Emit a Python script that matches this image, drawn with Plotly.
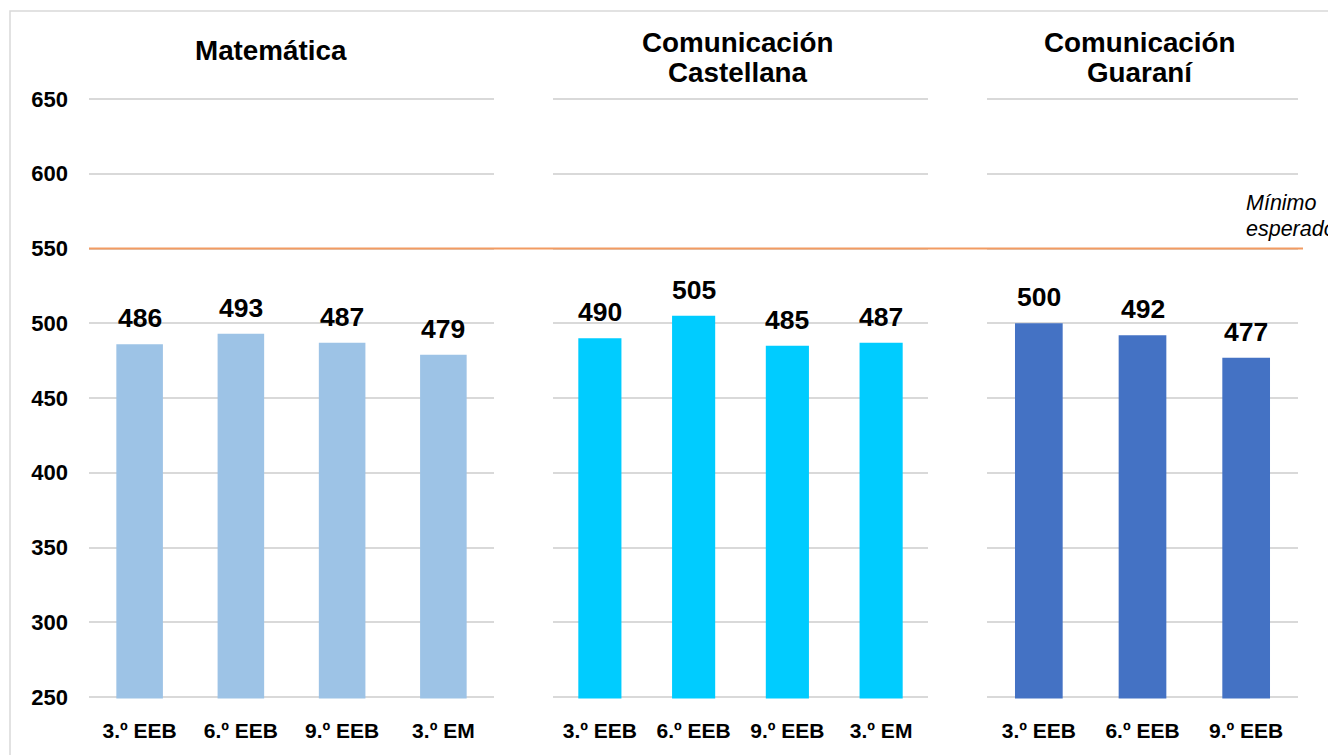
import plotly.graph_objects as go

# ---- data ----
cats_mat = ["3.º EEB", "6.º EEB", "9.º EEB", "3.º EM"]
vals_mat = [486, 493, 487, 479]
cats_cas = ["3.º EEB", "6.º EEB", "9.º EEB", "3.º EM"]
vals_cas = [490, 505, 485, 487]
cats_gua = ["3.º EEB", "6.º EEB", "9.º EEB"]
vals_gua = [500, 492, 477]
minimo = 550
y_ticks = [250, 300, 350, 400, 450, 500, 550, 600, 650]
min_label = ["Mínimo", "esperado"]

OFF = 8  # page body margin
W, H = 1336 - OFF, 755 - OFF
FONT = "Liberation Sans, Arial, sans-serif"
GRID = "#D9D9D9"

def px(x):
    return (x - OFF) / W

def py(y):
    return 1 - (y - OFF) / H

# y mapping: 250 -> 697px, 650 -> 99px
PPU = (697 - 99) / 400.0
Y0, Y1 = 249.0, 651.0
ydom = [py(697 + (250 - Y0) * PPU), py(99 - (Y1 - 650) * PPU)]

panels = [
    (cats_mat, vals_mat, "#9DC3E6", "x", (89, 494)),
    (cats_cas, vals_cas, "#00CCFF", "x2", (553, 928)),
    (cats_gua, vals_gua, "#4472C4", "x3", (987, 1298)),
]

fig = go.Figure()
annotations = []
for cats, vals, color, xa, dom in panels:
    fig.add_trace(go.Bar(x=cats, y=vals, marker=dict(color=color, line=dict(width=0)),
                         width=0.46, xaxis=xa, yaxis="y", showlegend=False,
                         hoverinfo="x+y"))
    for c, v in zip(cats, vals):
        annotations.append(dict(x=c, y=v, xref=xa, yref="y", text=f"<b>{v}</b>",
                                showarrow=False, yanchor="bottom", xanchor="center",
                                yshift=9, font=dict(family=FONT, size=26.5, color="black")))

# panel titles
title_pos = [
    [("Matemática", 271, 50)],
    [("Comunicación", 738, 42), ("Castellana", 738, 73)],
    [("Comunicación", 1140, 42), ("Guaraní", 1140, 73)],
]
for lines in title_pos:
    for t, x, y in lines:
        annotations.append(dict(x=px(x), y=py(y), xref="paper", yref="paper", text=f"<b>{t}</b>",
                                showarrow=False, xanchor="center", yanchor="middle",
                                font=dict(family=FONT, size=27.8, color="black")))

# "Mínimo esperado" label
for t, y in zip(min_label, [203, 229]):
    annotations.append(dict(x=px(1244), y=py(y), xref="paper", yref="paper", text=f"<i>{t}</i>",
                            showarrow=False, xanchor="left", yanchor="middle",
                            font=dict(family=FONT, size=21.5, color="black")))

shapes = [
    dict(type="line", xref="paper", yref="y", x0=px(89), x1=px(1303), y0=minimo, y1=minimo,
         line=dict(color="#F29B62", width=2)),
    dict(type="rect", xref="paper", yref="paper", x0=px(10), x1=1.05, y0=-0.05, y1=py(11),
         line=dict(color="#D9D9D9", width=1.5), fillcolor="rgba(0,0,0,0)", layer="below"),
]

xcommon = dict(showgrid=False, zeroline=False, showline=False, automargin=False,
               ticks="", ticklabelstandoff=18, anchor="y", fixedrange=True,
               tickfont=dict(family=FONT, size=21, color="black"))

layout = dict(
    template="none",
    width=W, height=H,
    margin=dict(l=0, r=0, t=0, b=0, pad=0),
    paper_bgcolor="white", plot_bgcolor="white",
    yaxis=dict(domain=ydom, range=[Y0, Y1], tickvals=y_ticks,
               ticktext=[f"<b>{v}</b>" for v in y_ticks],
               showgrid=True, gridcolor=GRID, gridwidth=1.5, zeroline=False, showline=False,
               automargin=False, ticks="", ticklabelstandoff=20, anchor="x", fixedrange=True,
               tickfont=dict(family=FONT, size=22, color="black")),
    annotations=annotations,
    shapes=shapes,
)
for cats, vals, color, xa, dom in panels:
    key = "xaxis" if xa == "x" else "xaxis" + xa[1:]
    ax = dict(xcommon)
    ax["domain"] = [px(dom[0]), px(dom[1])]
    ax["tickvals"] = cats
    ax["ticktext"] = [f"<b>{c}</b>" for c in cats]
    layout[key] = ax

fig.update_layout(**layout)
fig.write_html("out.html")
